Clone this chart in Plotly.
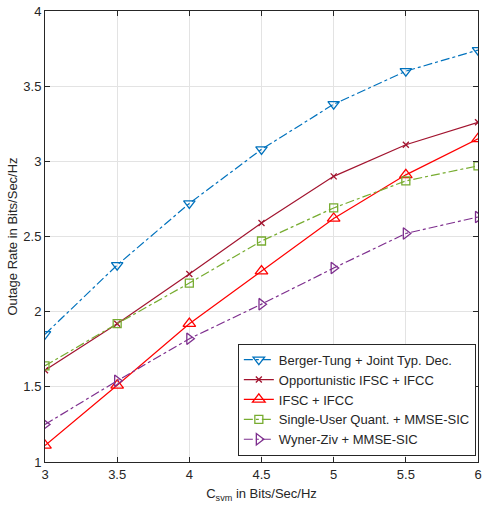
import plotly.graph_objects as go

# Sum-rate capacity axis (bits/sec/Hz)
c_svm = [3, 3.5, 4, 4.5, 5, 5.5, 6]

berger_tung = [1.85, 2.31, 2.72, 3.08, 3.38, 3.60, 3.74]
opportunistic = [1.61, 1.92, 2.25, 2.59, 2.90, 3.11, 3.26]
ifsc_ifcc = [1.11, 1.51, 1.92, 2.27, 2.62, 2.91, 3.15]
single_user = [1.64, 1.92, 2.19, 2.47, 2.69, 2.87, 2.97]
wyner_ziv = [1.25, 1.54, 1.82, 2.05, 2.29, 2.52, 2.63]

x_ticks = [3, 3.5, 4, 4.5, 5, 5.5, 6]
x_ticktext = ["3", "3.5", "4", "4.5", "5", "5.5", "6"]
y_ticks = [1, 1.5, 2, 2.5, 3, 3.5, 4]
y_ticktext = ["1", "1.5", "2", "2.5", "3", "3.5", "4"]

series = [
    ("Berger-Tung + Joint Typ. Dec.", berger_tung, "#0072BD", "dashdot", "triangle-down-open", 10),
    ("Opportunistic IFSC + IFCC", opportunistic, "#A2142F", "solid", "x-thin", 6),
    ("IFSC + IFCC", ifsc_ifcc, "#FF0000", "solid", "triangle-up-open", 11),
    ("Single-User Quant. + MMSE-SIC", single_user, "#77AC30", "dashdot", "square-open", 8),
    ("Wyner-Ziv + MMSE-SIC", wyner_ziv, "#7E2F8E", "dashdot", "triangle-right-open", 10),
]

fig = go.Figure()
for name, vals, color, dash, symbol, size in series:
    fig.add_trace(go.Scatter(
        x=c_svm, y=vals, name=name, mode="lines+markers",
        line=dict(color=color, width=1.2, dash=dash),
        marker=dict(symbol=symbol, size=size, color=color,
                    line=dict(color=color, width=1.3)),
    ))

axis_common = dict(
    showline=True, linecolor="#262626", linewidth=1, mirror="ticks",
    ticks="inside", ticklen=5, tickcolor="#262626", tickwidth=1,
    showgrid=True, gridcolor="#E3E3E3", gridwidth=1, zeroline=False,
    ticklabeloverflow="allow",
    tickfont=dict(family="Liberation Sans, Arial", size=13, color="#262626"),
)

fig.update_layout(
    width=484, height=508,
    margin=dict(l=45, r=2, t=11, b=46),
    paper_bgcolor="white", plot_bgcolor="white",
    font=dict(family="Liberation Sans, Arial", size=13, color="#262626"),
    xaxis=dict(range=[3, 6], tickvals=x_ticks, ticktext=x_ticktext,
               title=dict(text="C<sub>svm</sub> in Bits/Sec/Hz", standoff=8,
                          font=dict(size=13, color="#262626")),
               **axis_common),
    yaxis=dict(range=[1, 4], tickvals=y_ticks, ticktext=y_ticktext,
               title=dict(text="Outage Rate in Bits/Sec/Hz", standoff=2,
                          font=dict(size=13, color="#262626")),
               **axis_common),
    legend=dict(x=0.995, y=0.014, xanchor="right", yanchor="bottom",
                bgcolor="white", bordercolor="#262626", borderwidth=1,
                font=dict(size=13, color="#262626"), itemwidth=30,
                tracegroupgap=0),
    showlegend=True,
)

fig.write_html("out.html")
